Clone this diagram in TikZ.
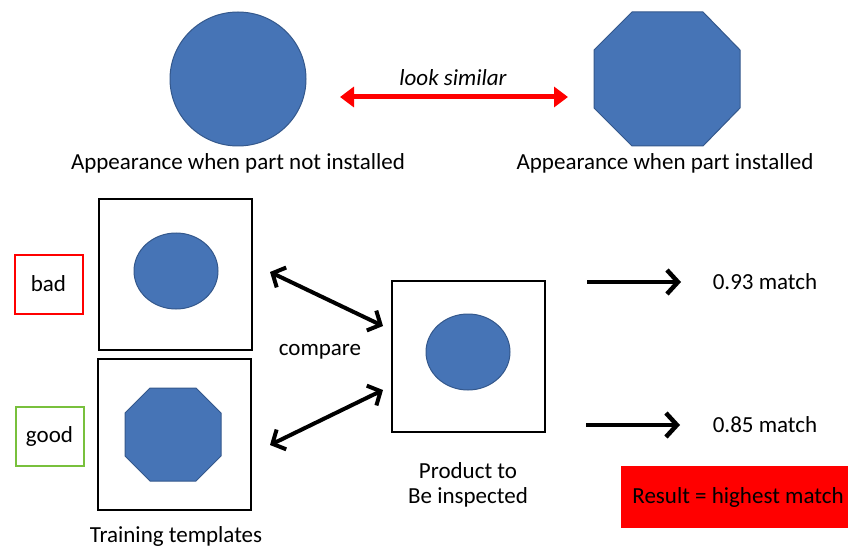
\documentclass[tikz,border=0pt]{standalone}
\usepackage{fontspec}
\setmainfont{Carlito}
\usetikzlibrary{arrows.meta,shapes.geometric}
\definecolor{partblue}{RGB}{70,116,182}
\definecolor{partedge}{RGB}{52,88,140}
\definecolor{goodgreen}{RGB}{120,192,60}
\tikzset{
  part/.style={fill=partblue, draw=partedge, line width=1pt},
  frame/.style={draw=black, line width=2pt, minimum width=153pt, minimum height=151pt, inner sep=0pt},
  tag/.style={draw, line width=2pt, minimum width=68pt, minimum height=59pt, inner sep=0pt},
  txt/.style={font=\fontsize{23}{25}\selectfont, inner sep=0pt, align=center},
  link/.style={line width=4pt, {Straight Barb[length=10pt,width=22pt]}-{Straight Barb[length=10pt,width=22pt]}},
  score/.style={line width=4.5pt, -{Straight Barb[length=11pt,width=24pt]}}
}
\begin{document}
\begin{tikzpicture}[x=1pt,y=-1pt]
\useasboundingbox (0,0) rectangle (848,548);
%%%%% TOP ROW %%%%%
\draw[part] (238,79) ellipse (68 and 67);
\draw[part] (594,50) -- (632,12) -- (703,12) -- (740,50) -- (740,108) -- (703,146) -- (632,146) -- (594,108) -- cycle;
\coordinate (simL) at (340,97);
\coordinate (simR) at (568,97);
\draw[red, line width=5pt, {Triangle[length=14pt,width=20pt]}-{Triangle[length=14pt,width=20pt]}] (simL) -- (simR);
\node[txt, font=\fontsize{23}{25}\selectfont\itshape] (similar) at (453,78) {look similar};
\node[txt] (capbare) at (238,163) {Appearance when part not installed};
\node[txt] (capfit) at (665,163) {Appearance when part installed};
%%%%% TEMPLATES %%%%%
\node[frame] (tplbad) at (175.5,274.5) {};
\node[frame] (tplgood) at (174.5,434.5) {};
\draw[part] (176,271) ellipse (42 and 38);
\draw[part] (125,413) -- (150,388) -- (196,388) -- (221,413) -- (221,456) -- (196,481) -- (150,481) -- (125,456) -- cycle;
\node[tag, draw=red] (bad) at (48.5,284) {};
\node[txt] at (bad) {bad};
\node[tag, draw=goodgreen] (good) at (49.5,436) {};
\node[txt] at (good) {good};
\node[txt] (train) at (176,536) {Training templates};
%%%%% PRODUCT %%%%%
\node[frame] (prod) at (468.5,356) {};
\draw[part] (468,352) ellipse (42 and 38);
\node[txt] (prodcap) at (468,485) {Product to\\Be inspected};
\coordinate (cmpA) at (270,272);
\coordinate (cmpB) at (383,326);
\coordinate (cmpC) at (270,445);
\coordinate (cmpD) at (383,390);
\draw[link] (cmpA) -- (cmpB);
\draw[link] (cmpC) -- (cmpD);
\node[txt] (compare) at (320,352) {compare};
%%%%% SCORES %%%%%
\coordinate (hiA) at (587,282);
\coordinate (hiB) at (681,282);
\coordinate (loA) at (586,425);
\coordinate (loB) at (680,425);
\draw[score] (hiA) -- (hiB);
\draw[score] (loA) -- (loB);
\node[txt] (hi) at (765,282) {0.93 match};
\node[txt] (lo) at (765,425) {0.85 match};
\fill[red] (621,466) rectangle (848,528);
\node[txt] (result) at (738,497) {Result = highest match};
\end{tikzpicture}
\end{document}
